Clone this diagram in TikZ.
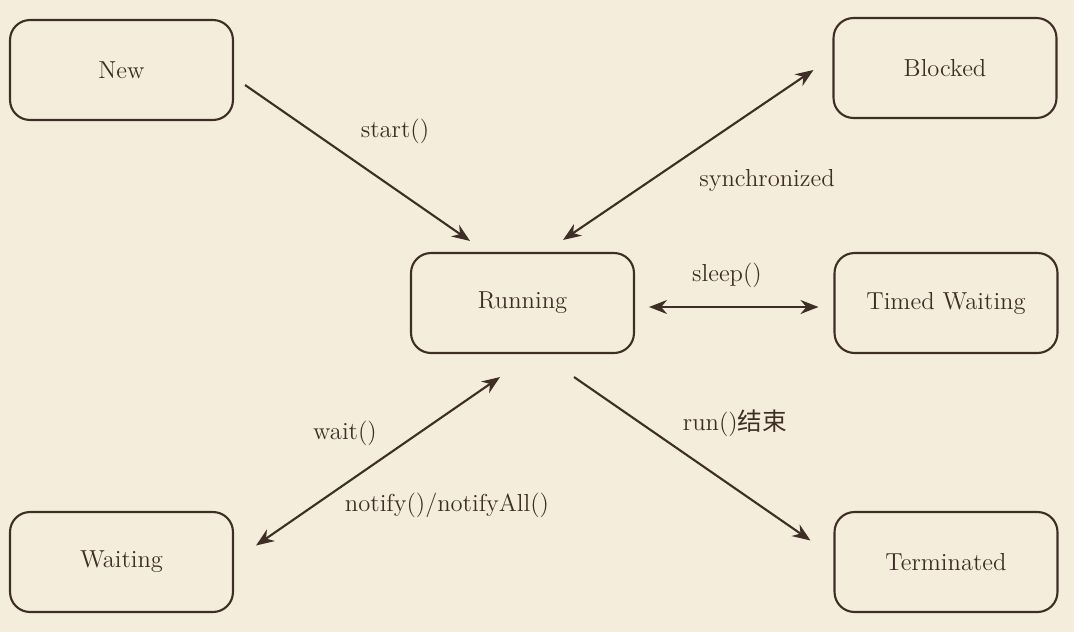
\documentclass[tikz,border=0pt]{standalone}
\usepackage{fontspec}
\usepackage{xcolor}
\usetikzlibrary{calc,arrows.meta}
\newfontfamily\cjk{Noto Sans CJK SC}
\definecolor{paper}{RGB}{244,237,220}
\definecolor{ink}{RGB}{62,46,38}
\begin{document}
\begin{tikzpicture}[x=0.02cm, y=-0.02cm,
        state/.style={draw=ink, fill=paper, line width=1.2pt, rounded corners=0.4cm,
                      minimum width=4.46cm, minimum height=2cm, text=ink},
        lbl/.style={text=ink},
        every node/.style={font=\fontsize{14}{16}\selectfont},
        link/.style={draw=ink, line width=1.2pt, -{Stealth[length=0.36cm, width=0.28cm]}},
        both/.style={link, {Stealth[length=0.36cm, width=0.28cm]}-{Stealth[length=0.36cm, width=0.28cm]}}]
    % Background
    \fill[paper] (0,0) rectangle (1074,632);
    % Nodes
    \node[state] (New)        at (121.5,70)  {New};
    \node[state] (Blocked)    at (945,68)    {Blocked};
    \node[state] (Running)    at (522.5,303) {Running};
    \node[state] (TimedWait)  at (946,303)   {Timed Waiting};
    \node[state] (Waiting)    at (121.5,562) {Waiting};
    \node[state] (Terminated) at (946,562)   {Terminated};
    % Labels
    \node[lbl] (lstart)  at (395,131) {start()};
    \node[lbl] (lsync)   at (767,180) {synchronized};
    \node[lbl] (lsleep)  at (727,275) {sleep()};
    \node[lbl] (lrun)    at (735,423) {run(){\cjk 结束}};
    \node[lbl] (lwait)   at (345,433) {wait()};
    \node[lbl] (lnotify) at (447,505) {notify()/notifyAll()};
    % Edges
    \draw[link] ($(New.east)+(11,15)$) -- ($(Running.north)+(-52.5,-11)$);
    \draw[both] ($(Running.north)+(40.5,-12)$) -- ($(Blocked.west)+(-19,2)$);
    \draw[both] ($(Running.east)+(14,4)$) -- ($(TimedWait.west)+(-15,4)$);
    \draw[link] ($(Running.south)+(51.5,23)$) -- ($(Terminated.west)+(-23,-21.5)$);
    \draw[both] ($(Waiting.east)+(22,-16.5)$) -- ($(Running.south)+(-22.5,23)$);
\end{tikzpicture}
\end{document}
